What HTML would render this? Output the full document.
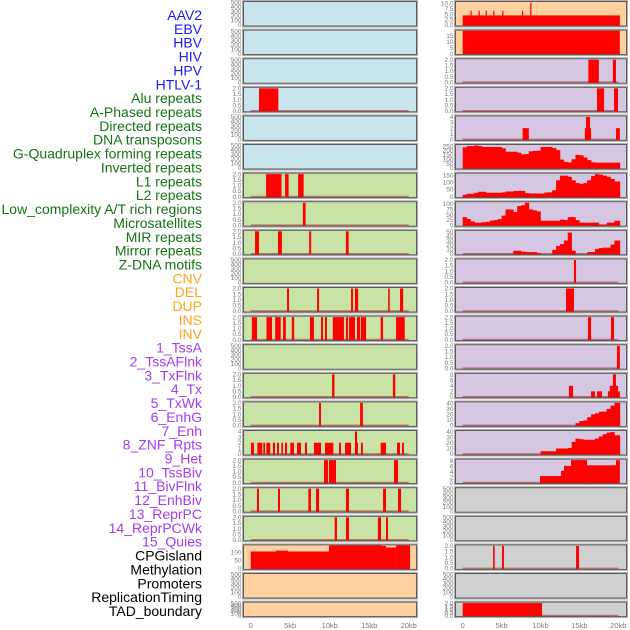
<!DOCTYPE html>
<html><head><meta charset="utf-8">
<style>
html,body{margin:0;padding:0;background:#fff;}
svg{display:block;}
.lbl{font-family:"Liberation Sans",sans-serif;font-size:14px;text-anchor:end;}
.tk{font-family:"Liberation Sans",sans-serif;font-size:6.5px;fill:#7a7a7a;text-anchor:end;}
.xt{font-family:"Liberation Sans",sans-serif;font-size:7.5px;fill:#7a7a7a;text-anchor:middle;}
</style></head>
<body>
<svg id="chart" width="630" height="630" viewBox="0 0 630 630" xmlns="http://www.w3.org/2000/svg">
<g id="labels"></g>
<g id="panels"></g>
<g id="xaxes"></g>
</svg>
<script>
// ---- track labels ----
const labelNames = ["AAV2","EBV","HBV","HIV","HPV","HTLV-1","Alu repeats","A-Phased repeats","Directed repeats","DNA transposons","G-Quadruplex forming repeats","Inverted repeats","L1 repeats","L2 repeats","Low_complexity A/T rich regions","Microsatellites","MIR repeats","Mirror repeats","Z-DNA motifs","CNV","DEL","DUP","INS","INV","1_TssA","2_TssAFlnk","3_TxFlnk","4_Tx","5_TxWk","6_EnhG","7_Enh","8_ZNF_Rpts","9_Het","10_TssBiv","11_BivFlnk","12_EnhBiv","13_ReprPC","14_ReprPCWk","15_Quies","CPGisland","Methylation","Promoters","ReplicationTiming","TAD_boundary"];
const labelGroups = [0,0,0,0,0,0,1,1,1,1,1,1,1,1,1,1,1,1,1,2,2,2,2,2,3,3,3,3,3,3,3,3,3,3,3,3,3,3,3,4,4,4,4,4];
const groupColors = ["#1a1aff","#127512","#ffa51a","#a33cf5","#000000"];

// ---- axis ticks ----
const T500 = [0,100,200,300,400,500];
const T2 = [0,0.5,1,1.5,2];
const T4 = [0,1,2,3,4];
const TCPG = [0,50,100];
const TAAV = [0,2.5,5,7.5,10];
const TEBV = [0,5,10,15];
const TG = [0,50,100,150,200,250];
const TL1 = [0,50,100,150];
const TLOW = [0,25,50,75,100];
const TMIR = [0,10,20,30,40,50];
const T8 = [0,2,4,6,8];
const T40 = [0,10,20,30,40];
const xTicks = [0,5,10,15,20];
const xTickLabels = ["0","5kb","10kb","15kb","20kb"];

// ---- left column interval data [start_kb, end_kb, value] ----
const L_alu = [[1.05,3.5,2]];
const L_l1 = [[1.95,3.9,2],[4.35,4.8,2],[6.0,6.7,2]];
const L_l2 = [[6.6,6.95,2]];
const L_mir = [[0.55,1.05,2],[3.45,3.95,2],[7.4,7.65,2],[12.05,12.4,2]];
const L_cnv = [[4.6,4.85,2],[8.4,8.65,2],[12.7,12.95,2],[13.2,13.6,2],[17.4,17.6,2],[18.9,19.3,2]];
const L_del = [[0.15,0.8,2],[2.0,2.7,2],[3.1,3.8,2],[4.1,4.45,2],[5.2,5.5,2],[7.5,8.0,2],[8.9,9.15,2],[9.4,9.65,2],[10.4,11.8,2],[12.05,12.3,2],[12.45,13.2,2],[13.45,13.85,2],[13.95,14.6,2],[16.45,16.75,2],[18.4,19.5,2]];
const L_ins = [[10.3,10.6,2],[18.0,18.3,2]];
const L_inv = [[8.65,8.9,2],[13.85,14.2,2]];
const L_tx = [[0.04,0.42,2],[0.84,1.47,2],[1.6,1.81,2],[1.98,2.48,2],[2.82,3.08,2],[3.33,3.58,2],[3.88,4.09,2],[4.34,4.6,2],[5.02,5.48,2],[5.86,6.37,2],[6.87,7.13,2],[8.01,8.9,2],[9.41,10.46,2],[11.18,11.43,2],[11.94,12.7,2],[13.2,13.58,2],[13.2,13.46,4],[13.96,14.2,2],[16.45,17.13,2],[18.52,18.9,2],[19.15,19.4,2]];
const L_txwk = [[9.28,9.78,2],[9.91,10.8,2],[18.14,18.65,2]];
const L_enhg = [[0.8,1.05,2],[3.46,3.71,2],[7.3,7.63,2],[8.27,8.65,2],[12.06,12.44,2],[16.75,17.13,2],[18.65,19.03,2]];
const L_enh = [[10.63,10.92,2],[12.06,12.44,2],[16.1,16.5,2],[17.13,17.38,2]];
const L_cpg = [[0,3.2,106],[3.2,4.72,111],[4.72,9.91,106],[9.91,16.62,145],[16.62,17.13,141],[17.13,18.4,131],[18.4,20.17,145]];

// ---- right column interval data ----
const R_aav2 = [[0,20.2,4.4],[1.0,1.15,6.5],[2.05,2.2,6.5],[2.95,3.1,6.5],[3.92,4.07,6.5],[5.08,5.23,6.5],[7.62,7.77,6.5],[8.68,8.83,10.3]];
const R_ebv = [[0,20.2,19]];
const R_hiv = [[16.15,17.5,2],[19.3,19.7,2]];
const R_hpv = [[17.26,18.17,2],[19.45,19.96,2]];
const R_alu = [[7.7,8.5,2],[15.7,16.5,2],[15.85,16.36,4],[19.7,20.2,2]];
const R_micro = [[14.3,14.57,2]];
const R_mirror = [[13.28,14.3,2]];
const R_zdna = [[16.1,16.5,2],[19.06,19.45,2]];
const R_cnv = [[19.83,20.2,2]];
const R_del = [[13.66,14.18,4],[16.5,17.0,2],[17.26,17.9,2],[18.67,18.9,2],[18.9,19.3,4],[19.3,19.7,8.2],[19.7,19.96,4],[19.96,20.2,2]];
const R_tss = [[9.94,12.64,2.4],[12.64,13.02,4.3],[13.02,13.92,6.1],[13.92,15.98,8.2],[15.98,19.7,6.3],[19.7,20.2,8.2]];
const R_enh = [[3.9,4.11,2],[5.05,5.3,2],[14.57,14.95,2]];
const R_tad = [[0,10.2,2]];

// ---- right column profiles (40 bins of 0.5 kb) ----
const R_gquad = [235,250,250,257,250,240,240,240,240,240,225,186,186,186,175,157,160,190,196,196,240,240,240,228,204,96,70,64,100,150,145,120,90,65,61,61,61,61,61,61];
const R_l1 = [13,20,20,27,34,34,27,27,27,27,30,36,36,40,40,40,25,22,22,22,22,29,30,45,115,148,148,140,115,96,90,95,115,145,159,155,148,140,125,107];
const R_low = [38,29,18,12,12,14,16,22,24,29,45,74,74,62,90,94,106,74,70,65,21,21,21,21,21,26,24,38,38,24,12,12,12,12,12,3,3,12,12,21];
const R_mir = [0,0,0,0,0,0,0,0,0,0,0,0,0,7,7,5,4,4,4,2,0,0,0,9,18,22,30,48,7,0,0,0,4,4,11,13,14,14,21,30];
const R_txwk = [0,0,0,0,0,0,0,0,0,0,0,0,0,0,0,0,0,0,0,0,0,0,0,0,0,0,0,0,0,4,8,9,15,20,22,25,25,30,36,41];
const R_enhg = [0,0,0,0,0,0,0,0,0,0,0,0,0,0,0,0,0,0,0,0,5,5,5,5,10,10,10,11,22,28,27,26,26,26,28,32,36,39,40,34];

const BLUE="#c8e4ec", GREEN="#c9e2a5", ORANGE="#ffd1a0", PURPLE="#d5c6e1", GREY="#d0d0d0";
const fmt1 = v => v.toFixed(1), fmt0 = v => String(v);

const leftPanels = [
 [BLUE,T500,500,fmt0,null,null,"aav2"],[BLUE,T500,500,fmt0,null,null,"ebv"],[BLUE,T500,500,fmt0,null,null,"hbv"],
 [BLUE,T2,2,fmt1,L_alu,null,"alu"],[BLUE,T500,500,fmt0,null,null,"aphased"],[BLUE,T500,500,fmt0,null,null,"directed"],
 [GREEN,T2,2,fmt1,L_l1,null,"l1"],[GREEN,T2,2,fmt1,L_l2,null,"l2"],[GREEN,T2,2,fmt1,L_mir,null,"mir"],
 [GREEN,T500,500,fmt0,null,null,"zdna"],[GREEN,T2,2,fmt1,L_cnv,null,"cnv"],[GREEN,T2,2,fmt1,L_del,null,"del"],
 [GREEN,T500,500,fmt0,null,null,"dup"],[GREEN,T2,2,fmt1,L_ins,null,"ins"],[GREEN,T2,2,fmt1,L_inv,null,"inv"],
 [GREEN,T4,4,fmt0,L_tx,null,"tx"],[GREEN,T2,2,fmt1,L_txwk,null,"txwk"],[GREEN,T2,2,fmt1,L_enhg,null,"enhg"],
 [GREEN,T2,2,fmt1,L_enh,null,"enh"],[ORANGE,TCPG,141,fmt0,L_cpg,null,"cpg"],[ORANGE,T500,500,fmt0,null,null,"methylation"],
 [ORANGE,T500,500,fmt0,null,null,"promoters"]];
const rightPanels = [
 [ORANGE,TAAV,10.3,fmt1,R_aav2,null,"aav2"],[ORANGE,TEBV,18.7,fmt0,R_ebv,null,"ebv"],[PURPLE,T2,2,fmt1,R_hiv,null,"hiv"],
 [PURPLE,T2,2,fmt1,R_hpv,null,"hpv"],[PURPLE,T4,4,fmt0,R_alu,null,"alu"],[PURPLE,TG,257,fmt0,null,R_gquad,"gquad"],
 [PURPLE,TL1,159,fmt0,null,R_l1,"l1"],[PURPLE,TLOW,106,fmt0,null,R_low,"low-complexity"],[PURPLE,TMIR,51,fmt0,null,R_mir,"mir"],
 [PURPLE,T2,2,fmt1,R_micro,null,"microsatellites"],[PURPLE,T2,2,fmt1,R_mirror,null,"mirror"],[PURPLE,T2,2,fmt1,R_zdna,null,"zdna"],
 [PURPLE,T2,2,fmt1,R_cnv,null,"cnv"],[PURPLE,T8,8.2,fmt0,R_del,null,"del"],[PURPLE,T40,41,fmt0,null,R_txwk,"txwk"],
 [PURPLE,T40,41,fmt0,null,R_enhg,"enhg"],[PURPLE,T8,8.2,fmt0,R_tss,null,"tssbiv"],[GREY,T500,500,fmt0,null,null,"bivflnk"],
 [GREY,T500,500,fmt0,null,null,"enhbiv"],[GREY,T2,2,fmt1,R_enh,null,"reprpc"],[GREY,T500,500,fmt0,null,null,"quies"],
 [GREY,T2,2,fmt1,R_tad,null,"tad"]];

const NS="http://www.w3.org/2000/svg";
function mk(tag, attrs, parent){const e=document.createElementNS(NS,tag);for(const k in attrs)e.setAttribute(k,attrs[k]);parent.appendChild(e);return e;}

const lg=document.getElementById("labels");
labelNames.forEach((n,i)=>{
  const t=mk("text",{x:202,y:20+i*13.86,"class":"lbl",fill:groupColors[labelGroups[i]]},lg);
  
  
  t.textContent=n;
});

const cols=[{x0:243.5,x1:416.5,z:250.7,s:7.9,panels:leftPanels,side:"left"},
            {x0:455.5,x1:626.5,z:462.7,s:7.78,panels:rightPanels,side:"right"}];
const pg=document.getElementById("panels");
const xg=document.getElementById("xaxes");
cols.forEach(c=>{
  const xs=kb=>c.z+kb*c.s;
  c.panels.forEach((p,i)=>{
    const [bg,ticks,ymax,fmt,iv,prof,name]=p;
    const top=1.5+28.6*i, h=(i===21?14.5:24.5), bot=top+h;
    const ys=v=>bot-1-(Math.min(v,ymax*1.02)/ymax)*(h-2);
    const g=mk("g",{},pg);
    
    
    mk("rect",{x:c.x0-1,y:top-1,width:c.x1-c.x0+2,height:h+2,fill:"none",stroke:"#b0b0b0","stroke-width":1},g);
    const bgR=mk("rect",{x:c.x0,y:top,width:c.x1-c.x0,height:h,fill:bg},g);
    
    
    ticks.forEach(t=>{
      const tt=mk("text",{x:c.x0-2,y:ys(t)+2.2,"class":"tk"},g);
      
      
      tt.textContent=fmt(t);
    });
    if(iv||prof){
      const bl=mk("rect",{x:xs(0),y:ys(0)-0.8,width:xs(20)-xs(0),height:1.6,fill:"rgba(170,30,30,0.55)"},g);
      
      
    }
    if(iv){
      iv.forEach(d=>{
        const r=mk("rect",{x:xs(d[0]),y:ys(d[2]),width:Math.max(1.2,xs(d[1])-xs(d[0])),height:ys(0)-ys(d[2])+1,fill:"#ff0000"},g);
        
        
      });
    }
    if(prof){
      prof.forEach((v,k)=>{
        if(v<=0)return;
        const s=k*0.5, e=(k===prof.length-1)?20.2:s+0.5;
        const r=mk("rect",{x:xs(s),y:ys(v),width:xs(e)-xs(s)+0.3,height:ys(0)-ys(v)+1,fill:"#ff0000"},g);
        
        
      });
    }
    mk("rect",{x:c.x0,y:top,width:c.x1-c.x0,height:h,fill:"none",stroke:"#5a5a5a","stroke-width":1},g);
  });
  xTicks.forEach((t,k)=>{
    const tt=mk("text",{x:xs(t),y:628,"class":"xt"},xg);
    
    
    tt.textContent=xTickLabels[k];
  });
});
</script>
</body></html>
